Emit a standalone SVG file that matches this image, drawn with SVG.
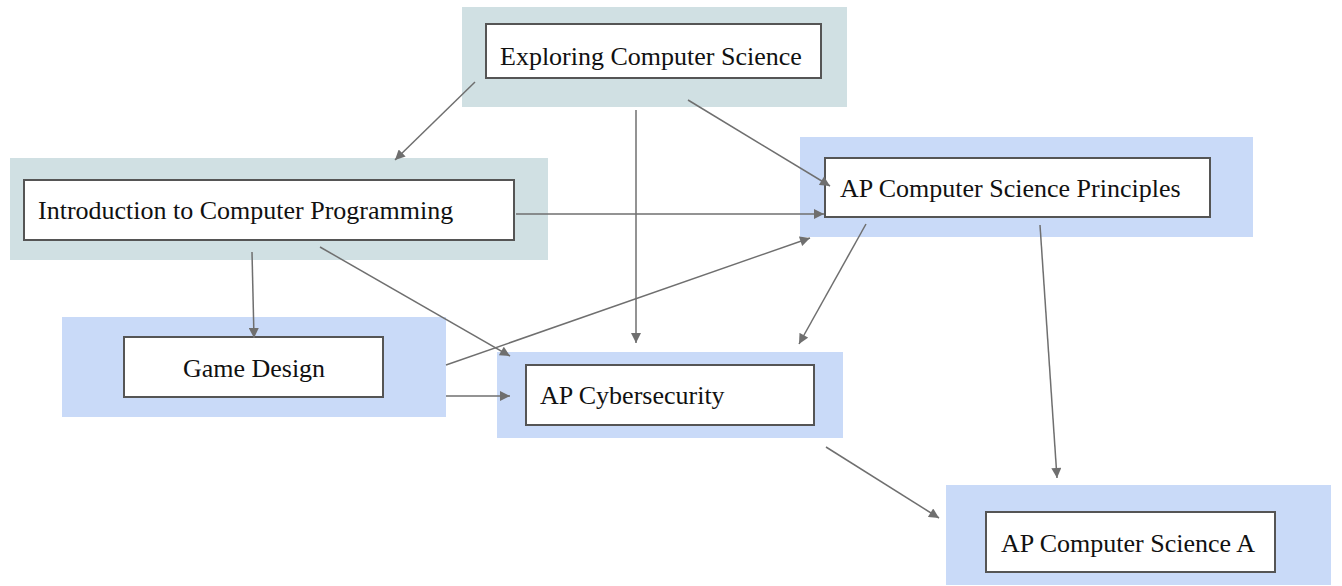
<svg xmlns="http://www.w3.org/2000/svg" width="1342" height="586" viewBox="0 0 1342 586">
<style>
.bgt{fill:#d0e0e3}
.bgb{fill:#c9daf8}
.box{fill:#fff;stroke:#555;stroke-width:2}
.t{font-family:"Liberation Serif","Times New Roman",serif;font-size:26px;fill:#111}
.c line{stroke:#6f6f6f;stroke-width:1.5;marker-end:url(#ah)}
</style>
<defs>
<marker id="ah" viewBox="0 0 10 10" refX="10" refY="5" markerWidth="11" markerHeight="10" markerUnits="userSpaceOnUse" orient="auto">
<path d="M0,0 L10,5 L0,10 z" fill="#6f6f6f"/>
</marker>
</defs>
<rect width="1342" height="586" fill="#fff"/>
<g id="n-ecs"><rect class="bgt" x="462" y="7" width="385" height="100"/><rect class="box" x="486" y="24" width="335" height="54"/><text class="t" x="500" y="65">Exploring Computer Science</text></g>
<g id="n-icp"><rect class="bgt" x="10" y="158" width="538" height="102"/><rect class="box" x="24" y="180" width="490" height="60"/><text class="t" x="38" y="219">Introduction to Computer Programming</text></g>
<g id="n-gd"><rect class="bgb" x="62" y="317" width="384" height="100"/><rect class="box" x="124" y="337" width="259" height="60"/><text class="t" x="254" y="377" text-anchor="middle">Game Design</text></g>
<g id="n-cyber"><rect class="bgb" x="497" y="352" width="346" height="86"/><rect class="box" x="526" y="365" width="288" height="60"/><text class="t" x="540" y="404">AP Cybersecurity</text></g>
<g id="n-csp"><rect class="bgb" x="800" y="137" width="453" height="100"/><rect class="box" x="825" y="158" width="385" height="59"/><text class="t" x="840" y="197">AP Computer Science Principles</text></g>
<g id="n-csa"><rect class="bgb" x="946" y="485" width="385" height="100"/><rect class="box" x="986" y="512" width="289" height="60"/><text class="t" x="1001" y="552">AP Computer Science A</text></g>
<g id="connectors" class="c">
<line x1="475" y1="82" x2="395" y2="160"/>
<line x1="636" y1="110" x2="636" y2="343"/>
<line x1="688" y1="100" x2="830" y2="186"/>
<line x1="516" y1="214" x2="824" y2="214"/>
<line x1="252" y1="252" x2="254" y2="338"/>
<line x1="320" y1="247" x2="510" y2="356"/>
<line x1="446" y1="365" x2="810" y2="238"/>
<line x1="446" y1="396" x2="510" y2="396"/>
<line x1="866" y1="224" x2="799" y2="344"/>
<line x1="1040" y1="225" x2="1057" y2="478"/>
<line x1="826" y1="447" x2="939" y2="518"/>
</g>
</svg>
